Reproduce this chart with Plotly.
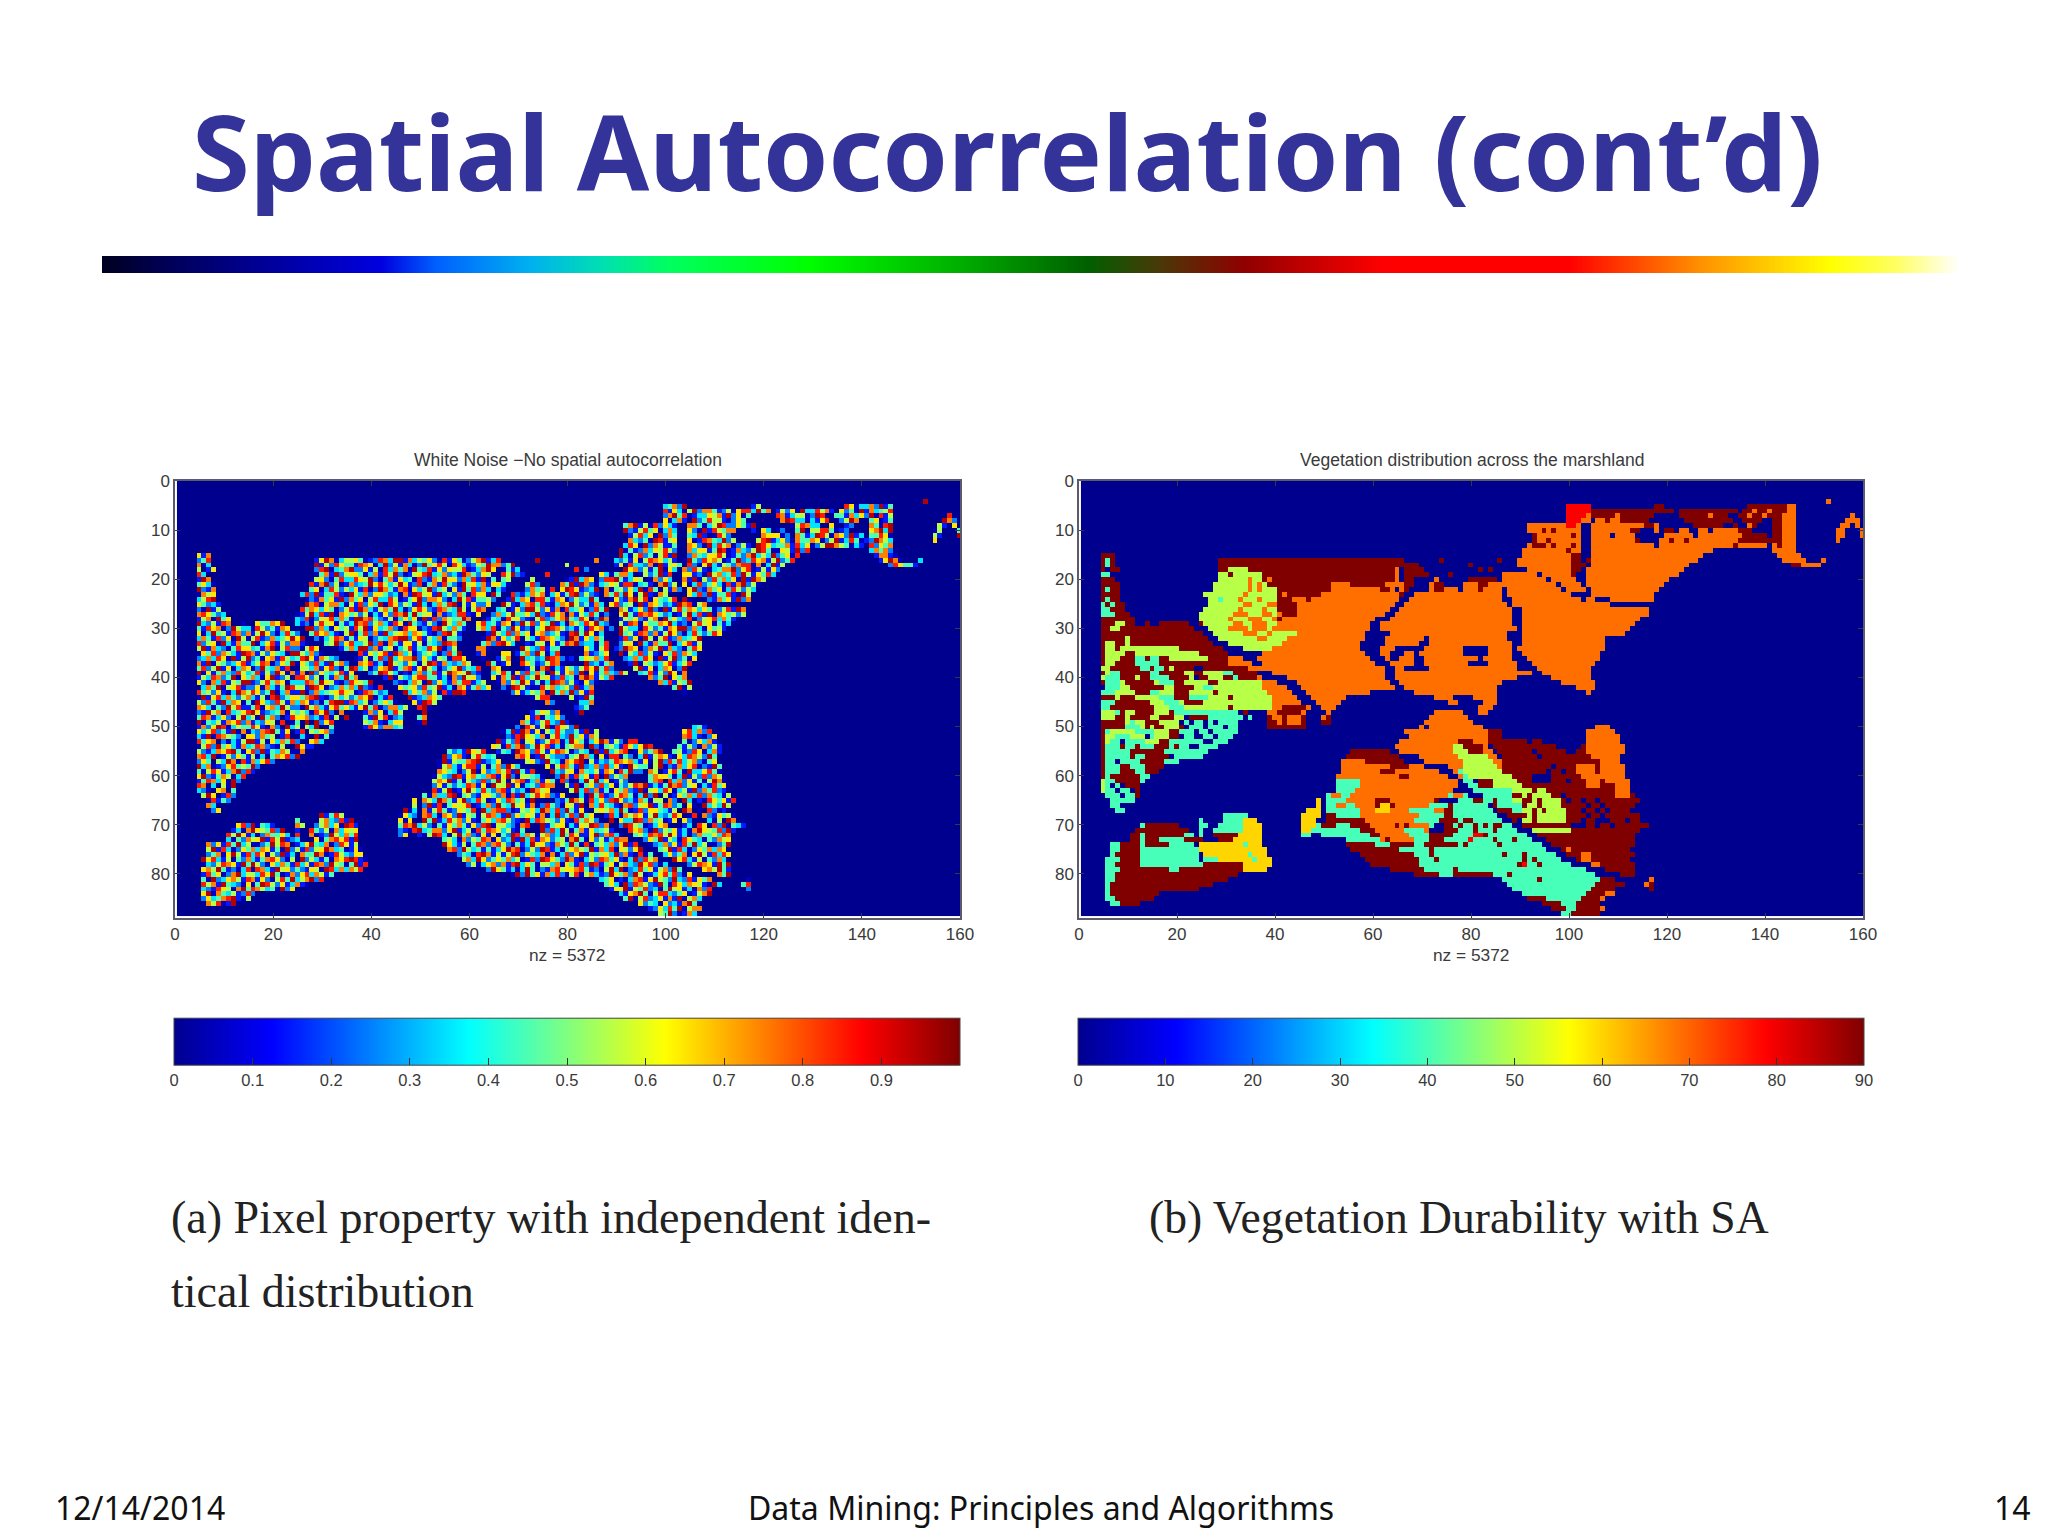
import plotly.graph_objects as go

# ---------------------------------- data
TITLE = "Spatial Autocorrelation (cont’d)"
FOOT_DATE = "12/14/2014"
FOOT_NAME = "Data Mining: Principles and Algorithms"
FOOT_PAGE = "14"
CAPTION_A = ["(a) Pixel property with independent iden-", "tical distribution"]
CAPTION_B = "(b) Vegetation Durability with SA"
TITLE_A = "White Noise −No spatial autocorrelation"
TITLE_B = "Vegetation distribution across the marshland"
XLABEL = "nz = 5372"

X_TICKS = [0, 20, 40, 60, 80, 100, 120, 140, 160]
Y_TICKS = [0, 10, 20, 30, 40, 50, 60, 70, 80]
CBAR_A_TICKS = [0, 0.1, 0.2, 0.3, 0.4, 0.5, 0.6, 0.7, 0.8, 0.9]
CBAR_B_TICKS = [0, 10, 20, 30, 40, 50, 60, 70, 80, 90]

# durability class values
CLASS_VALUES = {".": 0, "m": 40, "l": 50, "g": 60, "o": 69, "r": 79, "d": 90}

# (row, cell runs) of the vegetation map, later runs overwrite earlier ones
VEG_RUNS = [
    (4, "o152"),
    (5, "r99-103 d117-118 d136-143 o144-145"),
    (6, "r99-103 d104-120 d122-133 d135-143 o137 o140 o144-145"),
    (7, "r99-102 o103 d104-116 o109 d122-131 o128 d134-142 o136 o139 o143-145 o157"),
    (8, "r99-101 o102-103 o105-106 d107-115 o108-109 d123-132 d135-138 d141-142 o143-145 o156-158"),
    (9, "o91-98 r99-100 o101 o104-114 d115-116 o117 d125-130 d133 o136 d137 d141-142 o143-145 o155-156 o158"),
    (10, "o91-101 d94 d96 o104-111 d112-113 o117 d119-120 o122-123 o126-127 o129-133 d134-136 d141-142 o143-145 o154-155 o159"),
    (11, "o92-101 d92 d100 o104-112 .108 o119-124 o126-134 d135-139 d141-142 o143-145 o154-155 o159"),
    (12, "o92-101 d92 d95 o104-113 d113 o118-134 d120 d123 d134-140 d141-142 o143-145 o154"),
    (13, "o91-101 d92-94 d96 d100 o104-116 o118-133 d133 o134-139 o141 d142 o143-145"),
    (14, "o90-101 d99 o104-128 o141-142 d143 o143-145"),
    (15, "d4-6 o90-99 d100-101 o104-126 o142-146"),
    (16, "d4-6 m5 d28-65 d73 d85 o89-99 d100-101 d103 o104-125 o143-147 o151"),
    (17, "d4-6 m5 d28-68 d79 o89-99 d100-102 o104-123 d145-146 o147-150"),
    (18, "d4-7 .5 d28-69 l30-33 o64 .65 d81 d83 .89-90 o91-99 d100-101 o103-122"),
    (19, "d4-6 m4-5 .6 d28-69 l28-36 d30 o64 .65 d70 d75 o86-100 .93 d100 o103-121"),
    (20, "d4-6 l28-36 d37-65 o38 o34 o64 .65 d66-67 o72 d79-84 o86-100 .95 o103-119"),
    (21, "d4-7 l27-37 o34 o36 d38-50 o51-54 d55-61 o62-65 d66-67 o71 d72-73 o78-85 d81-82 o86-102 .97 .102 o103-118"),
    (22, "d4-7 m5 l27-39 o34 o36 d40-50 o51-60 d61-62 o63 .64 o65 d66 .67-68 o71 d72-73 o74-76 o78-85 d81 o87-102 .98 o104-117"),
    (23, "d4-7 l25-39 o33 d40 o41 d42-48 o49-64 d65 .66-67 o68-85 o87-101 .100-101 o104-116"),
    (24, "d4-7 m5 l26-39 m28 o32 o36 d40-42 o43-45 d46 o47-64 .65-66 o67-85 o88-101 o103-104 .105-107 o108-116"),
    (25, "d4-8 m4 m6 l26-39 o33-34 o38-39 d40-43 o44-63 .64-65 o66-86 o88-107"),
    (26, "d4-8 m4-5 l25-40 o32 o37 d40-43 o44-62 .63-64 o65-87 o90-115"),
    (27, "d4-9 m4-5 m6 l24-40 o31-33 o37-38 o40 d41-43 o44-61 .62-63 o64-87 o90-115"),
    (28, "d4-10 l24-39 o30 o34-36 o39 d40 o41-60 .60-62 o63-87 o90-113"),
    (29, "d4-10 l7-8 d13 d16-21 d24 l25-39 o31-32 o35-36 o37 o40-58 .59-60 o61-87 o90-112"),
    (30, "d4-12 l6-7 d13-14 d15-22 l26-38 o30-33 o35-37 o39-58 .59-60 o61-88 o90-111"),
    (31, "d4-24 l27-43 o33-35 o38 o44-57 .58-59 .61-62 o63-86 o90-110"),
    (32, "d4-25 l9 l28-41 o36-37 o42-57 .58-59 .61 o62-69 .70 o71-86 o90-106"),
    (33, "d4 l5-6 d7-8 l9 d10-26 l30-40 o41-56 .57-59 .61 o62-68 .69-70 o71-87 o90-106"),
    (34, "d4 l5-7 d7 l8-10 l11-19 d20-28 d27 l33-38 o39-56 .57-60 o61-63 .64-69 o70-77 .78-82 o83-87 o89-106"),
    (35, "d4 l5-8 d9-10 l11-23 d24-29 o37-57 .58-60 o61-62 .63-65 o66-67 .68 o69-77 .78-82 o83-87 o90-105"),
    (36, "d4 l5-7 d8-10 l11-12 m11-15 d13 d16-17 l18-25 d26-30 o30-32 o36-58 .59-61 o62 .63-64 o65-67 .68-69 o70-80 .81 o82-87 o91-105"),
    (37, "d4 l5-6 d7 l8 d8-13 m11-15 d16-18 d19 d20-30 o30-34 o37-59 .60-62 o63-67 .68-69 o70-78 .79-82 o83-88 o92-104"),
    (38, "l4-5 d6-7 d8-12 m12-16 d14 d17-22 l18 d25-33 o34-38 o39-61 .62-63 o64-65 .66-70 o71-88 o93-103"),
    (39, "d4 l5 m6-7 d8-11 d12-13 m14-15 d16-20 l21-22 d23-26 l25-28 m29-30 d31-35 o39-61 .62-63 o64-91 o94-103"),
    (40, "l4 m5-7 d8-13 l11 m14-17 d18-21 l22 d24-25 l26-28 d29-30 m31 d32-35 o36 o42-62 .62-63 o64-88 o96-103"),
    (41, "d4 m5-7 l8 d9-14 l15 m16-18 d19-20 l21-25 d26-27 l28-31 l32-36 o37-39 o44-62 .63-64 o65-85 o98-104"),
    (42, "m5-7 l8-9 d10-16 l17-18 d19-22 l23-27 m25-26 l28-31 l32-37 o37-41 o45-63 .64 o66-84 o101-104"),
    (43, "m4-6 l7-10 d11-13 l14-18 m14-15 d19-21 l22-26 d27 l28-30 l31-38 o38-42 o46-58 o68-84 o103"),
    (44, "d4-6 l7 d8-10 l11-16 m16-18 d19-21 m22-25 l26-29 d30 l31-39 o39-43 o47-53 o72-75 o80-84"),
    (45, "m4-6 d7-9 d10-13 l14-17 m17-19 l20 d21-24 l25-31 l31-38 o39-44 o48-52 o75-76 o82-84"),
    (46, "m4-5 d6-8 d9-14 l15-19 m18-20 l21-30 d30 l31-38 o39-46 d41-45 o49-51 o81-83"),
    (47, "l4-6 m7 d8 l9-12 d11-14 l15-17 d18-19 m19-22 m22-31 d33 o38-45 d40-44 o50 o72-77 o81-82"),
    (48, "l4-6 d7-8 l9 d10-13 l14-15 d16-18 l19-20 d22-23 .24 d24-26 m26-32 m34 d38 o39-40 d41 o42-44 d45 d49-50 o49 o71-78"),
    (49, "d4-8 l9-13 m10 d13-15 l16-19 m21-22 .22 m23-25 .25 m26-31 .27 d38-39 o40 d41 o42-44 d45 d49-50 o70-79"),
    (50, "d4-8 m9-12 l12-14 d13 d15-17 l17-19 d20 m21-22 .21 m23-24 m26-31 .29 d38-45 o69 o71-81 o105-107"),
    (51, "d4 m5 l6-11 m11-14 l15-17 d18-19 m20-31 .23 .26 o66-84 d83-85 o103-108"),
    (52, "d4 l5-6 m7-9 l10-13 m13-14 .13 l15-18 d18-19 m20-30 .20 .23-24 .27 o67-82 d83-85 o103-109"),
    (53, "d4 l5 m6-8 .8 m9-12 l13-15 d16-17 m18-29 .25 .26 o65-76 d77-79 o80-82 d83-90 d92-93 o103-109"),
    (54, "d4 m5-10 d8 d11 m12-16 d15-17 m18-27 d19 .22-23 o64-75 l76-77 d78-81 o82 d84-96 o103-110 d102"),
    (55, "d4 .5 m5-10 d10-12 d13-16 m17-25 d55-62 o65-75 l76-79 d79-81 o82-83 d85-98 .92 d101-102 o103-110"),
    (56, "d4 m5-8 m9-12 d10 d13-16 d17-18 m18-24 .18 d54-64 .65-68 o69-76 l77-82 o83-84 d86-100 .93 d101-103 o104-109"),
    (57, "d4 m5-8 .7 m9-11 d12-15 d16 m17-19 o53-58 d58-65 o70-78 l78-83 o84-85 d86-101 d102-105 o106-109"),
    (58, "d4 m5-10 d8-9 m10-12 d13-16 o53-62 d63-66 o67-69 o75-77 l78-84 d85-86 o85 d87-100 .96 o101-104 d105 o106-110"),
    (59, "d4 m5-7 d8-10 m11-12 d13-15 o53-61 d61-63 o64-72 o76-77 m77 l78-85 d86-101 .95 .98 o101-104 d105 o106-110"),
    (60, "d4 m5 d6-10 d11 m12-13 o52-70 d65-66 o71-74 o77 m78 l79-87 d88-102 .92-95 o102-110"),
    (61, "l4 m5-6 d7-9 d10-11 m12 m52-56 o57-76 m78-79 d81-83 l84-88 d89-102 .92-95 .99 o103-105 d106 o107-108 o109-111"),
    (62, "l4 m5 .6 m7 .8 d9 d10-11 m52-56 o57-76 m79-80 d81-83 l84-89 d90-102 o103-105 d106-108 o109-111"),
    (63, "l4 m5-6 .7 m8-9 .10 d11 m52-55 o56-75 m80-87 l88-92 d92 l93-94 d95-98 d99-108 o109-111"),
    (64, "m5-8 .8 m9-10 d11 m50 o51-52 m53-54 o55-74 m75 o76-77 m78 m82-87 d88-89 l90 d91 l92-95 d96-97 d99-112 o109-111"),
    (65, "m6-7 m8-9 m10 g48 m50 o51-53 m50-53 o54-60 d60-62 o63-71 d72 m77-88 d80-81 d84 l88-89 d90-91 l92 d93 l94-97 d98-113 .99 .102 .105"),
    (66, "m6-7 g48 m50-51 o52-53 m54-55 o56-60 d60 o61 g61-62 d63 o64-70 m71-74 d75 m76-82 d84 m85-90 d90 l91-92 d93 l94-97 d98-112 .103 .106"),
    (67, "m7-8 g46-48 m50-52 m53-56 o57-60 g60-62 o63-68 m67-71 o72-73 d74-75 m76-83 d85-87 m88-89 l90-91 d92 l93 d94 l95-98 d99-111 .102 .105 .107"),
    (68, "m29-33 g45-48 d50-51 m52-56 o57-74 o68 m69-73 d74-75 m76-84 d87-90 l91-92 d92 l93-98 d99-113 .103 .106"),
    (69, "m24 m29-34 g33-35 g45-47 d50-57 o58-73 m68-72 d73-76 m77-85 d78-79 d88 l90-91 d92 l93-99 d99-113 .102 .105-107 .111"),
    (70, "m12 d13-19 m24-25 m28-34 g33-36 g45-47 m48 d49-52 m52-54 d55-58 o59-70 d64 d66 m71-73 .72-73 d74-75 m76-87 d77 d80 d82 d84-85 o90 d90-115 .100-102 .105 .108"),
    (71, "d11-21 m24 m27-33 g33-36 g45-46 m47-57 d57-59 o60-70 m66-69 d74-77 m77-88 d80 d84 l92-99 d100-113"),
    (72, "d10-13 m12 d13-21 m21-22 m24 m27-29 d27-31 g32-36 m45-46 m49-59 d59-60 o61-69 m67-70 d71-75 m76-90 d80 r80-81 d82 d93-99 d100-112"),
    (73, "d10-11 m12 d13-16 m16-21 d21-24 d28-31 g31-36 m54-60 o61-67 d62 m68-71 d71-73 m74-91 r79 d84 d88 d95-99 d100-112"),
    (74, "m6-7 d8-11 m12 d13-17 m18-22 g24-36 m33 d54-60 m60-62 d63-67 m68-70 d70-76 m77-93 d78 d85 d96-99 d100-112"),
    (75, "m6-7 d8-11 m12-18 m19-23 g24-37 d55-66 m65-70 d71-75 m72-94 d98-111 o99"),
    (76, "m6 d7-11 m12-23 m25 g25-37 m34 d57-62 d63-68 m68-70 d71 m72-96 d86 d90 d99-101 o102-103 d104-112"),
    (77, "m5-7 d8-11 m12-23 m25-27 g28-38 m35 d58-68 m69-71 d72 m73-97 d90 d92 d101 o102-103 d104-111"),
    (78, "m5-6 d7-12 m12-24 d25-32 g33-38 m59 d59-68 m69-99 d89 r90 d93 o104-105 d106-112"),
    (79, "m5-7 d8-11 d12-18 m18-19 d20-32 g33-37 d63-71 m70-102 d76 d107-112"),
    (80, "m5-6 d7-31 d68-72 m73-76 d76-81 m82-104 d82-83 d87 d110-112"),
    (81, "m5-6 d7-29 m86-105 d93 d106-108 o116"),
    (82, "m5 d6-26 m87-104 d105-110 d116 o115"),
    (83, "m5 d6-23 m88-103 d104-108 d116"),
    (84, "m5 d6-15 m90-102 d103-106 o107-108"),
    (85, "m5-6 d7-14 d91-94 m95-101 d102-105 o106"),
    (86, "m6-7 d8-11 d94-97 m98-100 d101-105"),
    (87, "d96-98 m99-100 d101-105 o106"),
    (88, "m98-99 d100-105"),
]

# noise classes (0-9) of the land cells, row by row from the left picture
NOISE_ROWS = [""] * 4 + [
    "9",
    "34729158603372914860526184790235571098246611937",
    "81630592774125068839471526093385716240917345826019734185296604",
    "27948013365719260487135502984417362908158436270915523864071962",
    "60371924855102647983303168259746014972358869012774361590248175",
    "47915082631774035982264190587336127408951650392784116529037845",
    "92158460373620918547716302495588401267939054726183241769850331",
    "15836092744391085276660274139850762913448605192377218054963186",
    "73240981566018743925589136207447602591384012975368810354719226",
    "38609275114762093857025198634471836025997540318264791650828343",
    "90412736585273661498017325984006519283747294150683361879204526",
    "61793058240581927436685014279353924608177106395482860257149738",
    "2481697035564012873991735462081640257913897324160587635109428675014923867159",
    "7039152864418760392517302946850863125497724951608332709156482069315427880",
    "5162890347922615083747094381626558013796041382967251490637285103477926801",
    "8304719256640371859201568934723197426508592186304773052491866120957348295164",
    "1975620483386592047163408217596627381904455019376288941365072637190528473609",
    "4630817925017234968535961280471842095637166305827491972034651880341792560382",
    "9217460385253618029741780635924506194827331274508698612397045263908451726",
    "0756382914481095372664230719856193527408660948213757036148925217483960591",
    "3589021746192746058338501469277620395814452193760884176025339406217958064",
    "6423197805773051826490862541930374890516226951037848103769524173682450917",
    "2091584763640258197315749302686218743950587340162995261708346028497513629",
    "7864230159381907645250316287949456071238810627359446392185707153840269418",
    "1570946328025683741997842150363609182754497143085621058236794386029715462",
    "9325187064476931205856041397825731860942152095374683417602958264913075386",
    "4186702953308524176992730645185916347208660218953741573804296120469875231",
    "6039451872715962038424867310590482719356737641028951195382746067235108949",
    "3741826095058127346969203587141650243789926815370442097163585318764209716",
    "8256093174490368152771045926833592807416615043298747289631055061487923304",
    "5917320486634179058220586147399271460358143869025770953281446305812976027",
    "0648275319871526430995372081646819735024530284917661472950387124690538251",
    "2373860915924067185348961753201504829367792631540886015793423987201465738",
    "7190542368135870264906428319572768130954264059817323759401686412587092314",
    "4825916037602943718553716820498350267914781695302469243876150790316425869",
    "9061473285348152960717092643581624985301037248159765921358406283740951672",
    "1538724906473069125886250417394719053268844130729562607491835956128340797",
    "6207381549912584760333874965102865492103750926317488135072649614039872510",
    "3749056812260731498551986023747392108645628459130761473620985100857346291",
    "8452610397586249037119027345686501874239364725081998261354709473926180564",
    "0916837425731508924664789102535247690318912376405885019473262136847590328",
    "5284193760409632851737612048991873502464061985723374205681938602514379176",
    "7630429581148067395220957316846316948027735890124657148250369489276530113",
    "2195708346896123470545308692717260385914652709184336970142585041629738867",
    "4871362059350947218667231805941958023476180436297559482037613724061589250",
    "9043517682713265804992685471036609741258329158074647301962588135729460312",
    "1726980354486107293553904186277342861590865293410772158634090951684327406",
    "6358241907032789416185467203919716053842241905683728390416576047238195632",
    "3190875426627451830904218965370583294617578310264996145702388264917053718",
    "8467203159915063748267391428056125870396403697152884026371950739518642021",
    "0582946317348721059611650837924968130457792045318636984152072517360984836",
    "5213768940682914375007423196581430976285168750243919357806247945128603719",
    "7839015264150347682992671058434786019532214597360880423915761063875294126",
    "2645397081736820915447891236056219430768905132487673160592848357204619735",
    "9370126845492057316881504729636058741923728361095445902173680219476385027",
    "4058613792817643025906237581941893256074351760849227516840933684091752167",
    "6921475038053298167437816920554302971846180925374766403915282759103468235",
    "1487360925769140532824950678137164820395936015247883726140597025681937346",
    "8735092614243871609559160342877519046283604258791314978256031846372059817",
    "3206748159016953842781423097565938271406472190563860351927482167094385263",
    "5961824073389045216642708193586721630948125874039295016473827430568219971",
    "0814267539741692385016387450921497508362896231740557293108646182935674081",
    "7352918046568013729439561702842065197384310782569148724609353956120874327",
    "2690371584126548093788201546397382941605657394018266431597082014839652768",
    "9148506327830762915405873192646517039248294618307576159324860872164509325",
    "4573281960694913857261046378521093875426108475296339827450166230597183479",
    "6829043175257360981487935204164741628905532078914660316598272985401367138",
    "1307965482918425073656210893477269135084876351049283950471634518672092546",
    "8596130274463870129537482610598305947216160429837505723948611692783045387",
    "3042756918591236047868194530725487062391938176245079406251387726491530864",
    "7261849350024958713694370286159631504872785204139662175394080453726918023",
    "5918302647376140925182569734016078295341413697802529813046754917380652694",
    "2470695183860529137449701853266243089715158926437070382691545639271080436",
    "9683150427314786205925314076898105739624647350182986429710352874610392857",
    "0325876194952063741836187295404918250367271893640553706418298146057329682",
    "6759412038087319562421650983737582964130394021785667841205939023846157294",
    "1846027935538694017268375140929461738205805731296472950136848206749315760",
    "4092367518716205849357928346010378169542932816470548267391054719586023187",
    "8571943206049852613710463092875219408637651093482763584129706341072986514",
    "3218650794875340926166915482304956130728240867593171039256486382917405649",
    "6907435128231679405883246015798742095316578130924620871943502507368921746",
    "2634789105490582361719057326481865247093136498702573296180645143892670358",
    "7580196243062317948545182709361039471862824016357998063741522690438175239",
    "1263849057738429106395706418253478290516965372041862415708396137509824761",
    "5492017386169750348228943165070926385741053184279640867329154783261095480",
]

RAINBOW_POS = [0, 0.03, 0.08, 0.15, 0.18, 0.23, 0.27, 0.305, 0.38, 0.46, 0.53, 0.57, 0.615, 0.69, 0.79, 0.86, 0.93, 0.965, 1]
RAINBOW_COL = ["#000020", "#000050", "#000090", "#0000e0", "#0060ff", "#00b0f0", "#00e0b0", "#00ff60", "#00ff00", "#00b000",
               "#006000", "#4a3808", "#900000", "#ff0000", "#ff0000", "#ff9000", "#ffff00", "#ffff60", "#ffffff"]

JET = [[0, "#00008f"], [0.125, "#0000ff"], [0.375, "#00ffff"], [0.625, "#ffff00"], [0.875, "#ff0000"], [1, "#800000"]]
W, H = 2048, 1536
GREY = "#3a3a3a"


def px_x(v):
    return v / W


def px_y(v):
    return 1 - v / H


# 지도 격자 만들기
veg = [[0] * 160 for _ in range(89)]
for row, spec in VEG_RUNS:
    for tok in spec.split():
        a, _, b = tok[1:].partition("-")
        for c in range(int(a), int(b or a) + 1):
            veg[row][c] = CLASS_VALUES[tok[0]]

noise = [[0] * 160 for _ in range(89)]
for row in range(89):
    digits = NOISE_ROWS[row]
    n = 0
    for c in range(160):
        if veg[row][c] > 0:
            noise[row][c] = (int(digits[n % len(digits)]) + 0.5) / 10
            n += 1

fig = go.Figure()


def add_map(z, zmax, xaxis, yaxis, bar_left, bar_ticks):
    fig.add_trace(go.Heatmap(
        z=z, x0=0.9, dx=1, y0=0.1, dy=1, xaxis=xaxis, yaxis=yaxis,
        zmin=0, zmax=zmax, colorscale=JET, hoverinfo="skip",
        colorbar=dict(
            orientation="h", xanchor="left", yanchor="bottom",
            x=px_x(bar_left), y=px_y(1097), lenmode="pixels", len=786,
            thicknessmode="pixels", thickness=47, xpad=0, ypad=0,
            outlinecolor="#444444", outlinewidth=1,
            ticks="inside", ticklen=7, tickcolor="#333333", tickwidth=1,
            tickmode="array", tickvals=bar_ticks, ticktext=[str(t) for t in bar_ticks],
            tickfont=dict(family="Liberation Sans", size=16.5, color=GREY),
        ),
    ))


add_map(noise, 1, "x", "y", 174, CBAR_A_TICKS)
add_map(veg, 90, "x2", "y2", 1078, CBAR_B_TICKS)

# 제목 아래 무지개 띠
fig.add_trace(go.Heatmap(
    z=[RAINBOW_POS], x=RAINBOW_POS, y=[0], xaxis="x3", yaxis="y3", zmin=0, zmax=1,
    colorscale=[[p, c] for p, c in zip(RAINBOW_POS, RAINBOW_COL)],
    zsmooth="best", showscale=False, hoverinfo="skip",
))

axis_style = dict(
    showgrid=False, zeroline=False, ticks="inside", ticklen=5, tickcolor=GREY,
    showline=True, linecolor="#5b5b6b", linewidth=1.5, mirror="allticks",
    tickfont=dict(family="Liberation Sans", size=17, color=GREY),
)

# autoexpand 끄기: 컬러바가 플롯 영역을 밀어내지 않게
fig.update_layout(
    width=W, height=H, margin=dict(l=0, r=0, t=0, b=0, autoexpand=False),
    paper_bgcolor="white", plot_bgcolor="white", showlegend=False,
    xaxis=dict(domain=[px_x(175), px_x(960)], range=[0, 160], tickvals=X_TICKS, anchor="y", **axis_style),
    yaxis=dict(domain=[px_y(918), px_y(481)], range=[89, 0], tickvals=Y_TICKS, anchor="x", **axis_style),
    xaxis2=dict(domain=[px_x(1079), px_x(1863)], range=[0, 160], tickvals=X_TICKS, anchor="y2", **axis_style),
    yaxis2=dict(domain=[px_y(918), px_y(481)], range=[89, 0], tickvals=Y_TICKS, anchor="x2", **axis_style),
    xaxis3=dict(domain=[px_x(102), px_x(1959)], range=[0, 1], visible=False, anchor="y3"),
    yaxis3=dict(domain=[px_y(273), px_y(256)], visible=False, anchor="x3"),
)


def label(text, x, y, size, family, color="#222222", anchor="left", bold=False):
    shown = f"<b>{text}</b>" if bold else text
    fig.add_annotation(
        text=shown, x=px_x(x), y=px_y(y), xref="paper", yref="paper", showarrow=False,
        xanchor=anchor, yanchor="middle", align=anchor,
        font=dict(family=family, size=size, color=color),
    )


label(TITLE, 190, 151, 104.8, "Noto Sans", "#333399", bold=True)
label(TITLE_A, 568, 460, 17.5, "Liberation Sans", GREY, "center")
label(TITLE_B, 1472, 460, 17.5, "Liberation Sans", GREY, "center")
label(XLABEL, 567, 955, 17.3, "Liberation Sans", GREY, "center")
label(XLABEL, 1471, 955, 17.3, "Liberation Sans", GREY, "center")
label(CAPTION_A[0], 169, 1217, 46, "Liberation Serif")
label(CAPTION_A[1], 169, 1291, 46, "Liberation Serif")
label(CAPTION_B, 1147, 1217, 45.6, "Liberation Serif")
label(FOOT_DATE, 52.5, 1507, 32, "Noto Sans", "#111111")
label(FOOT_NAME, 1041, 1507, 32, "Noto Sans", "#111111", "center")
label(FOOT_PAGE, 2033, 1507, 32, "Noto Sans", "#111111", "right")

fig.write_html(
    "out.html",
    config={"displayModeBar": False},
    post_script="document.documentElement.style.margin='0';document.body.style.margin='0';document.body.style.overflow='hidden';"
                "var d=document.querySelector('.plotly-graph-div');d.style.position='absolute';d.style.left='0';d.style.top='0';",
)
